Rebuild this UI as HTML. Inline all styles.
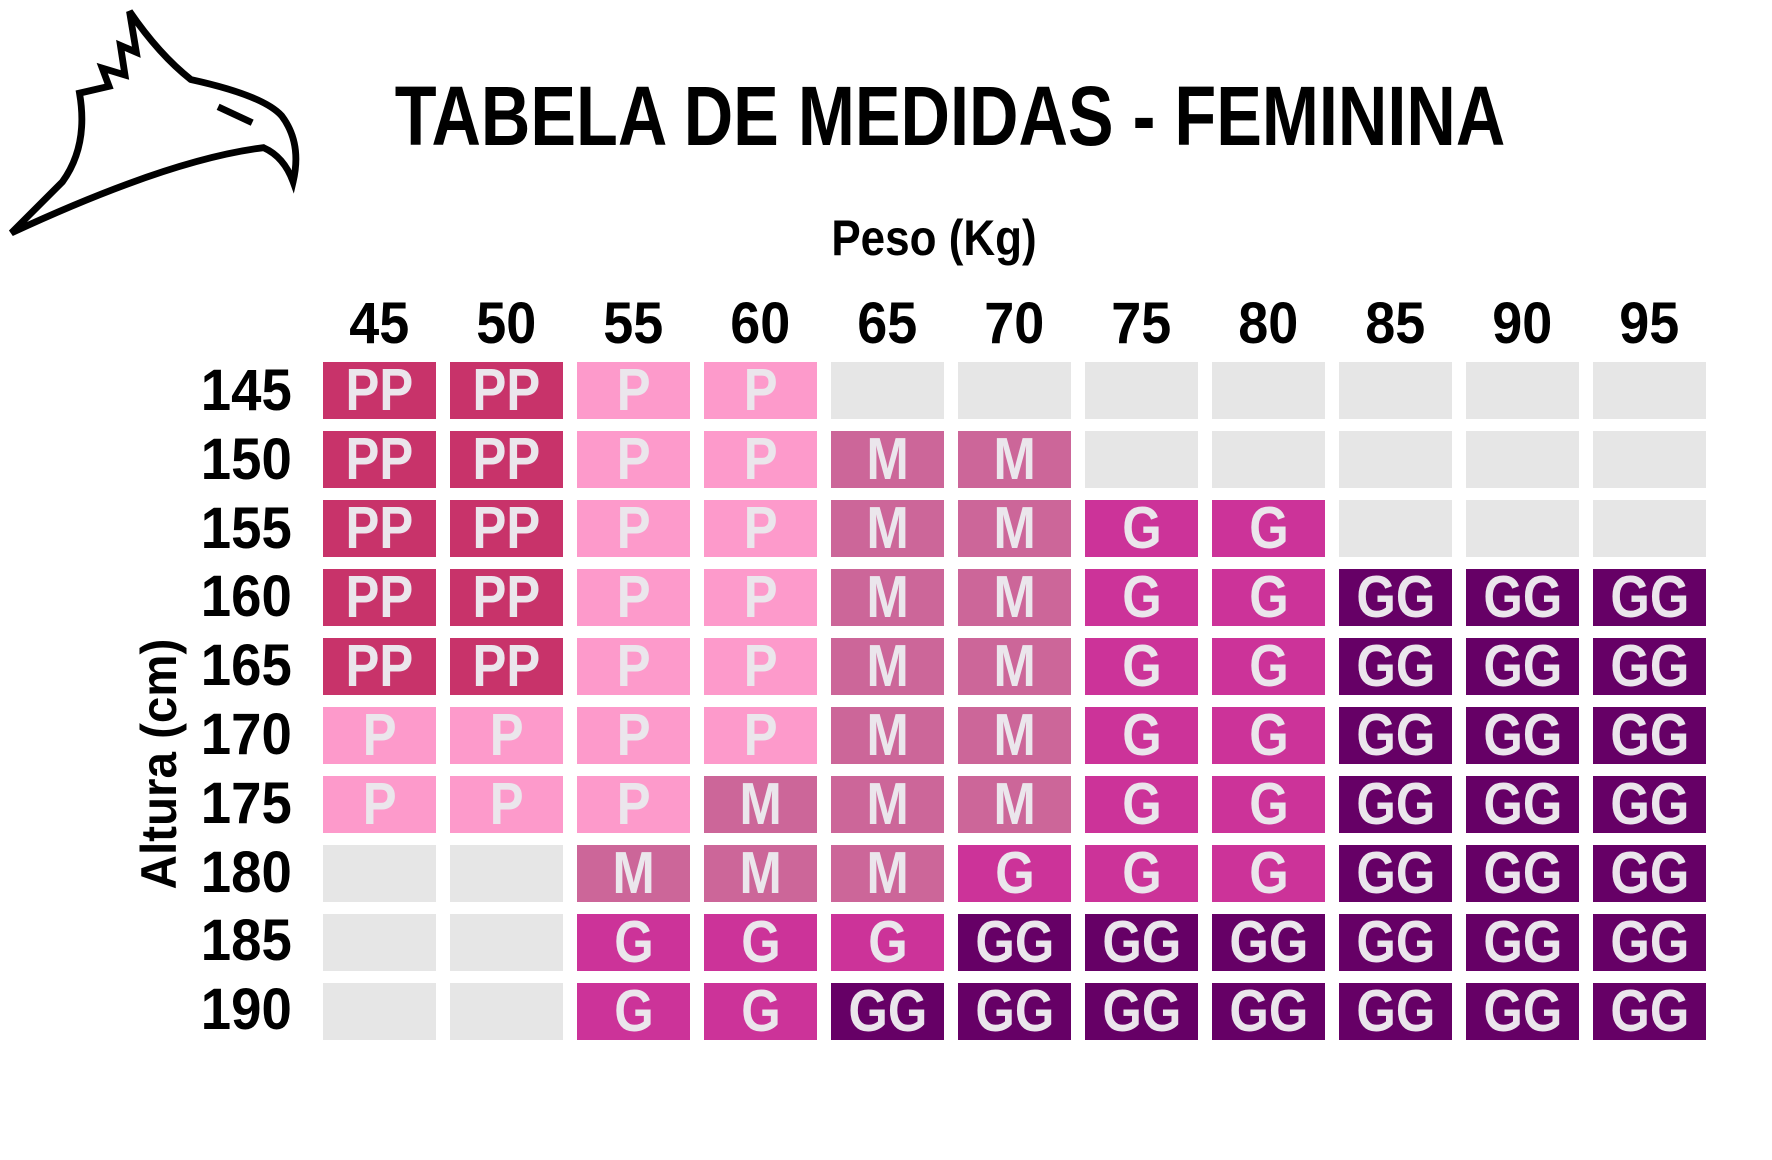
<!DOCTYPE html>
<html><head><meta charset="utf-8"><style>
html,body{margin:0;padding:0;background:#fff;}
body{width:1772px;height:1160px;position:relative;overflow:hidden;font-family:"Liberation Sans",sans-serif;font-weight:bold;}
.abs{position:absolute;white-space:nowrap;}
.grid{position:absolute;left:323px;top:362px;display:grid;grid-template-columns:repeat(11,113px);column-gap:14px;grid-auto-rows:57px;row-gap:12px;}
.grid div{text-align:center;line-height:57px;font-size:59px;color:#ebe6ec;overflow:hidden;}
.grid div span{display:inline-block;transform:scaleX(0.86);}
.hdr div span{display:inline-block;transform:scaleX(0.93);}
.rl div span{display:inline-block;transform:scaleX(0.94);}
.e{background:#e6e6e6}.pp{background:#c8336a}.p{background:#fd9acb}.m{background:#cc6699}.g{background:#cc3399}.gg{background:#660066}
.hdr{position:absolute;left:323px;top:295px;display:grid;grid-template-columns:repeat(11,113px);column-gap:14px;}
.hdr div{text-align:center;font-size:58px;line-height:57px;color:#000;}
.rl{position:absolute;left:180px;top:362px;width:112px;}
.rl div{height:57px;margin-bottom:11.8px;text-align:right;font-size:58px;line-height:57px;}
.rl div span{transform-origin:right center;}
</style></head><body>
<svg class="abs" style="left:0;top:0" width="320" height="250" viewBox="0 0 320 250">
<g transform="scale(1.136)" fill="none" stroke="#000" stroke-width="6" stroke-linejoin="miter">
<path d="M10,205 L55,160 Q78,128 70,82 L96,76 L90,60 L110,66 L106,40 L120,46 L114,10 Q140,48 168,70 Q232,84 248,102 Q266,126 258,160 Q250,138 232,130 Q150,140 10,205 Z"/>
<path d="M192,94 L222,108" stroke-width="6"/>
</g></svg>
<div class="abs" style="left:950px;top:74px;font-size:84px;line-height:84px;transform:translateX(-50%) scaleX(0.815);">TABELA DE MEDIDAS - FEMININA</div>
<div class="abs" style="left:934px;top:213px;font-size:50px;line-height:50px;transform:translateX(-50%) scaleX(0.88);">Peso (Kg)</div>
<div class="abs" style="left:159px;top:764px;font-size:50px;line-height:50px;transform:translate(-50%,-50%) rotate(-90deg) scaleX(0.95);">Altura (cm)</div>
<div class="hdr"><div><span>45</span></div><div><span>50</span></div><div><span>55</span></div><div><span>60</span></div><div><span>65</span></div><div><span>70</span></div><div><span>75</span></div><div><span>80</span></div><div><span>85</span></div><div><span>90</span></div><div><span>95</span></div></div>
<div class="rl"><div><span>145</span></div><div><span>150</span></div><div><span>155</span></div><div><span>160</span></div><div><span>165</span></div><div><span>170</span></div><div><span>175</span></div><div><span>180</span></div><div><span>185</span></div><div><span>190</span></div></div>
<div class="grid">
<div class="pp"><span>PP</span></div><div class="pp"><span>PP</span></div><div class="p"><span>P</span></div><div class="p"><span>P</span></div><div class="e"></div><div class="e"></div><div class="e"></div><div class="e"></div><div class="e"></div><div class="e"></div><div class="e"></div>
<div class="pp"><span>PP</span></div><div class="pp"><span>PP</span></div><div class="p"><span>P</span></div><div class="p"><span>P</span></div><div class="m"><span>M</span></div><div class="m"><span>M</span></div><div class="e"></div><div class="e"></div><div class="e"></div><div class="e"></div><div class="e"></div>
<div class="pp"><span>PP</span></div><div class="pp"><span>PP</span></div><div class="p"><span>P</span></div><div class="p"><span>P</span></div><div class="m"><span>M</span></div><div class="m"><span>M</span></div><div class="g"><span>G</span></div><div class="g"><span>G</span></div><div class="e"></div><div class="e"></div><div class="e"></div>
<div class="pp"><span>PP</span></div><div class="pp"><span>PP</span></div><div class="p"><span>P</span></div><div class="p"><span>P</span></div><div class="m"><span>M</span></div><div class="m"><span>M</span></div><div class="g"><span>G</span></div><div class="g"><span>G</span></div><div class="gg"><span>GG</span></div><div class="gg"><span>GG</span></div><div class="gg"><span>GG</span></div>
<div class="pp"><span>PP</span></div><div class="pp"><span>PP</span></div><div class="p"><span>P</span></div><div class="p"><span>P</span></div><div class="m"><span>M</span></div><div class="m"><span>M</span></div><div class="g"><span>G</span></div><div class="g"><span>G</span></div><div class="gg"><span>GG</span></div><div class="gg"><span>GG</span></div><div class="gg"><span>GG</span></div>
<div class="p"><span>P</span></div><div class="p"><span>P</span></div><div class="p"><span>P</span></div><div class="p"><span>P</span></div><div class="m"><span>M</span></div><div class="m"><span>M</span></div><div class="g"><span>G</span></div><div class="g"><span>G</span></div><div class="gg"><span>GG</span></div><div class="gg"><span>GG</span></div><div class="gg"><span>GG</span></div>
<div class="p"><span>P</span></div><div class="p"><span>P</span></div><div class="p"><span>P</span></div><div class="m"><span>M</span></div><div class="m"><span>M</span></div><div class="m"><span>M</span></div><div class="g"><span>G</span></div><div class="g"><span>G</span></div><div class="gg"><span>GG</span></div><div class="gg"><span>GG</span></div><div class="gg"><span>GG</span></div>
<div class="e"></div><div class="e"></div><div class="m"><span>M</span></div><div class="m"><span>M</span></div><div class="m"><span>M</span></div><div class="g"><span>G</span></div><div class="g"><span>G</span></div><div class="g"><span>G</span></div><div class="gg"><span>GG</span></div><div class="gg"><span>GG</span></div><div class="gg"><span>GG</span></div>
<div class="e"></div><div class="e"></div><div class="g"><span>G</span></div><div class="g"><span>G</span></div><div class="g"><span>G</span></div><div class="gg"><span>GG</span></div><div class="gg"><span>GG</span></div><div class="gg"><span>GG</span></div><div class="gg"><span>GG</span></div><div class="gg"><span>GG</span></div><div class="gg"><span>GG</span></div>
<div class="e"></div><div class="e"></div><div class="g"><span>G</span></div><div class="g"><span>G</span></div><div class="gg"><span>GG</span></div><div class="gg"><span>GG</span></div><div class="gg"><span>GG</span></div><div class="gg"><span>GG</span></div><div class="gg"><span>GG</span></div><div class="gg"><span>GG</span></div><div class="gg"><span>GG</span></div>
</div>
</body></html>
